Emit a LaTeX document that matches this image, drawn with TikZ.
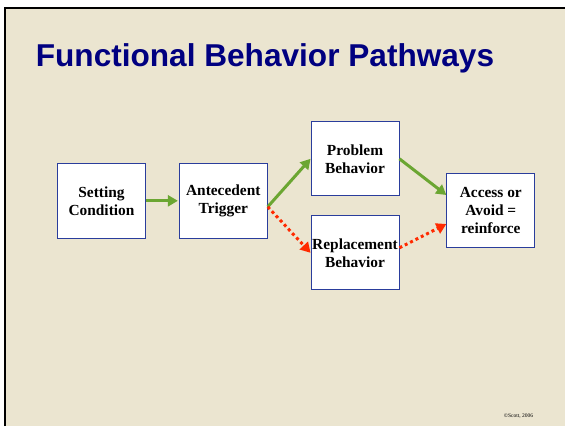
\documentclass[tikz,border=0pt]{standalone}
\usepackage{fontspec}
\setmainfont{Liberation Serif}
\newfontfamily\titlefont{Liberation Sans}
\usetikzlibrary{arrows.meta}
\definecolor{slidebg}{HTML}{EBE5D0}
\definecolor{titleblue}{HTML}{000080}
\definecolor{boxblue}{HTML}{2A3D9C}
\definecolor{arrgreen}{HTML}{6BA632}
\definecolor{arrred}{HTML}{FF2A00}

\begin{document}
\begin{tikzpicture}[x=1pt,y=-1pt,line width=1.0pt,>={Triangle[length=10pt,width=11pt]},
 box/.style={draw=boxblue,fill=white,line width=0.9pt,minimum width=88pt,minimum height=75pt,inner sep=0pt,align=center,font=\fontsize{15.4}{18}\selectfont\bfseries},
 good/.style={draw=arrgreen,line width=3pt,->},
 bad/.style={draw=arrred,line width=3pt,dash pattern=on 3pt off 3pt,->}]
\useasboundingbox (0,0) rectangle (565,426);
\fill[white] (0,0) rectangle (565,426);
\fill[slidebg] (5,8) rectangle (565,426);
\draw[line width=1.5pt] (5,426) -- (5,8) -- (565,8);
\node[anchor=base west,text=titleblue,font=\titlefont\fontsize{31.6}{38}\selectfont\bfseries] (title) at (32,66) {Functional Behavior Pathways};
\node[box] (set) at (101.5,200.8) {Setting\\Condition};
\node[box] (ant) at (223.3,200.8) {Antecedent\\Trigger};
\node[box,minimum height=74pt] (prob) at (355,158.8) {Problem\\Behavior};
\node[box,minimum height=74pt] (repl) at (355,252.8) {Replacement\\Behavior};
\node[box,minimum height=74pt] (acc) at (490.8,210) {Access or\\Avoid =\\reinforce};
\draw[good,shorten >=1pt] (set) -- (ant);
\draw[good] ([yshift=-6pt]ant.east) -- (prob.west);
\draw[bad] ([yshift=-6pt]ant.east) -- (repl.west);
\draw[good] (prob.east) -- ([yshift=15pt]acc.west);
\draw[bad] ([yshift=5pt]repl.east) -- ([yshift=-14pt]acc.west);
\node[anchor=base east,font=\fontsize{5.5}{6}\selectfont] (copy) at (537,417) {\textcopyright Scott, 2006};
\end{tikzpicture}
\end{document}
